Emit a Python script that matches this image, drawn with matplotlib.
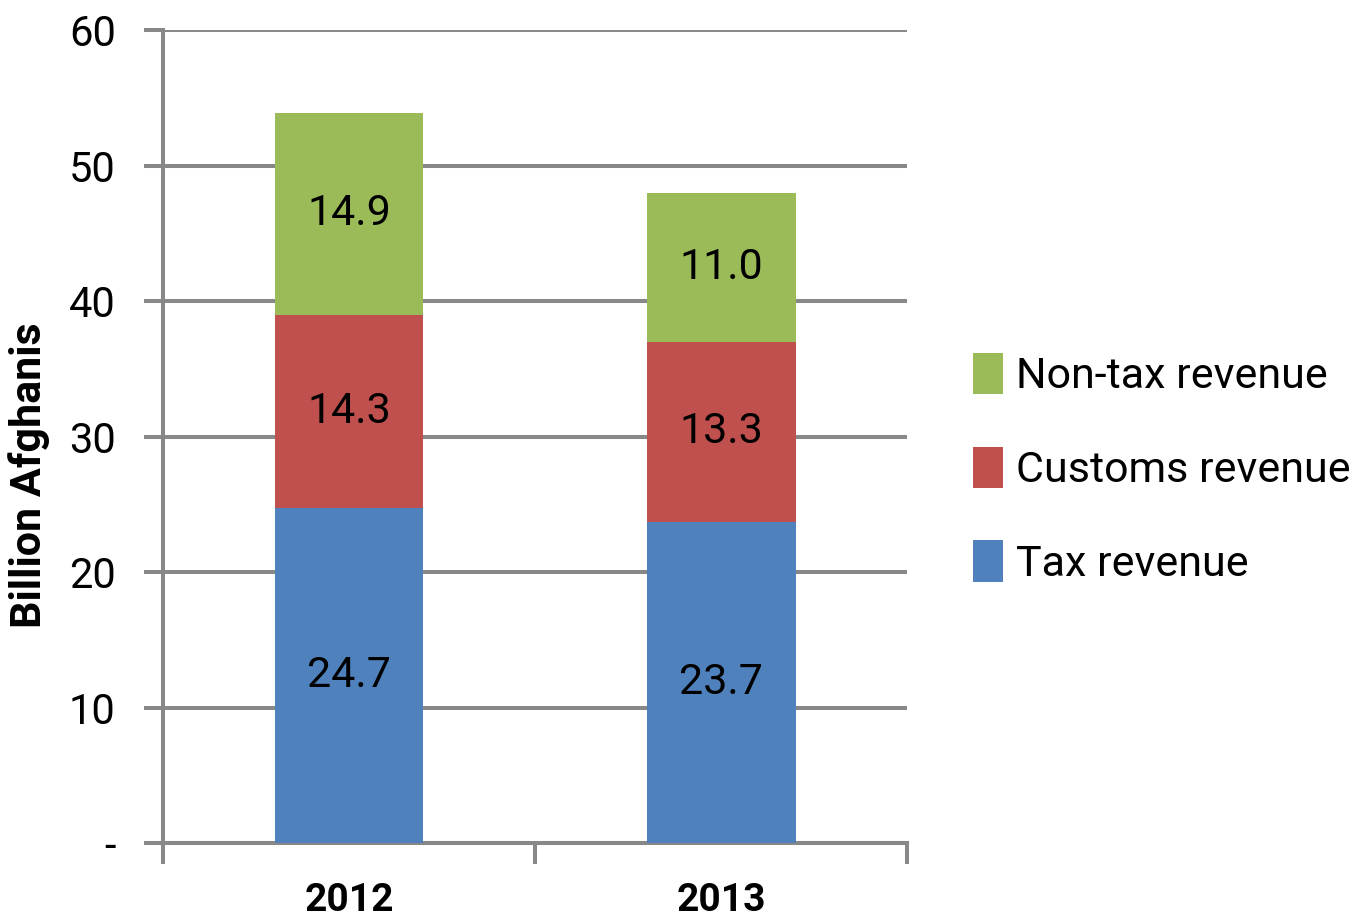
import numpy as np
import matplotlib
matplotlib.use("Agg")
import matplotlib.pyplot as plt
from matplotlib.patches import Patch

plt.rcParams['font.family'] = ['Roboto', 'DejaVu Sans']

# 数据
years = ['2012', '2013']
tax = [24.7, 23.7]
customs = [14.3, 13.3]
non_tax = [14.9, 11.0]

series = [
    ('Tax revenue', tax, '#4F81BD'),
    ('Customs revenue', customs, '#C0504D'),
    ('Non-tax revenue', non_tax, '#9BBB59'),
]
yticks = [0, 10, 20, 30, 40, 50, 60]
ytick_labels = ['-', '10', '20', '30', '40', '50', '60']

grid_color = '#888888'
lw = 2.9

fig = plt.figure(figsize=(13.58, 9.19), dpi=100)
ax = fig.add_axes([0.120, 0.0827, 0.548, 0.8846])

x = np.arange(len(years))
bottom = np.zeros(len(years))
for name, vals, color in series:
    ax.bar(x, vals, width=0.4, bottom=bottom, color=color, zorder=3)
    for xi, v, b in zip(x, vals, bottom):
        ax.text(xi, b + v / 2, f'{v:.1f}', ha='center', va='center',
                fontsize=31, color='black', zorder=4)
    bottom = bottom + np.array(vals)

ax.set_xlim(-0.5, len(years) - 0.5)
ax.set_ylim(0, 60)

# 网格线
ax.set_yticks(yticks)
ax.set_yticklabels(ytick_labels, fontsize=30)
ax.yaxis.grid(True, color=grid_color, linewidth=lw, zorder=0)
ax.set_axisbelow(True)

# x 轴刻度在类别之间
ax.set_xticks([-0.5, 0.5, 1.5])
ax.set_xticklabels([])
ax.set_xticks(x, minor=True)
ax.set_xticklabels(years, minor=True, fontsize=28, fontweight='bold')
ax.tick_params(axis='x', which='minor', length=0, pad=28)
ax.tick_params(axis='x', which='major', length=15, width=lw, color=grid_color)
ax.tick_params(axis='y', length=14, width=lw, color=grid_color, pad=20)

for side in ['top', 'right']:
    ax.spines[side].set_visible(False)
for side in ['left', 'bottom']:
    ax.spines[side].set_color(grid_color)
    ax.spines[side].set_linewidth(lw)

ax.set_ylabel('Billion Afghanis', fontsize=31, fontweight='bold')
ax.yaxis.set_label_coords(-0.152, 0.453)

# 图例
handles = [Patch(facecolor=c, label=n) for n, _, c in series[::-1]]
fig.legend(handles=handles, loc='center left', bbox_to_anchor=(0.688, 0.49),
           frameon=False, fontsize=31, handlelength=0.7, handleheight=1.1,
           handletextpad=0.3, labelspacing=1.15)

fig.savefig('out.png', dpi=100)
